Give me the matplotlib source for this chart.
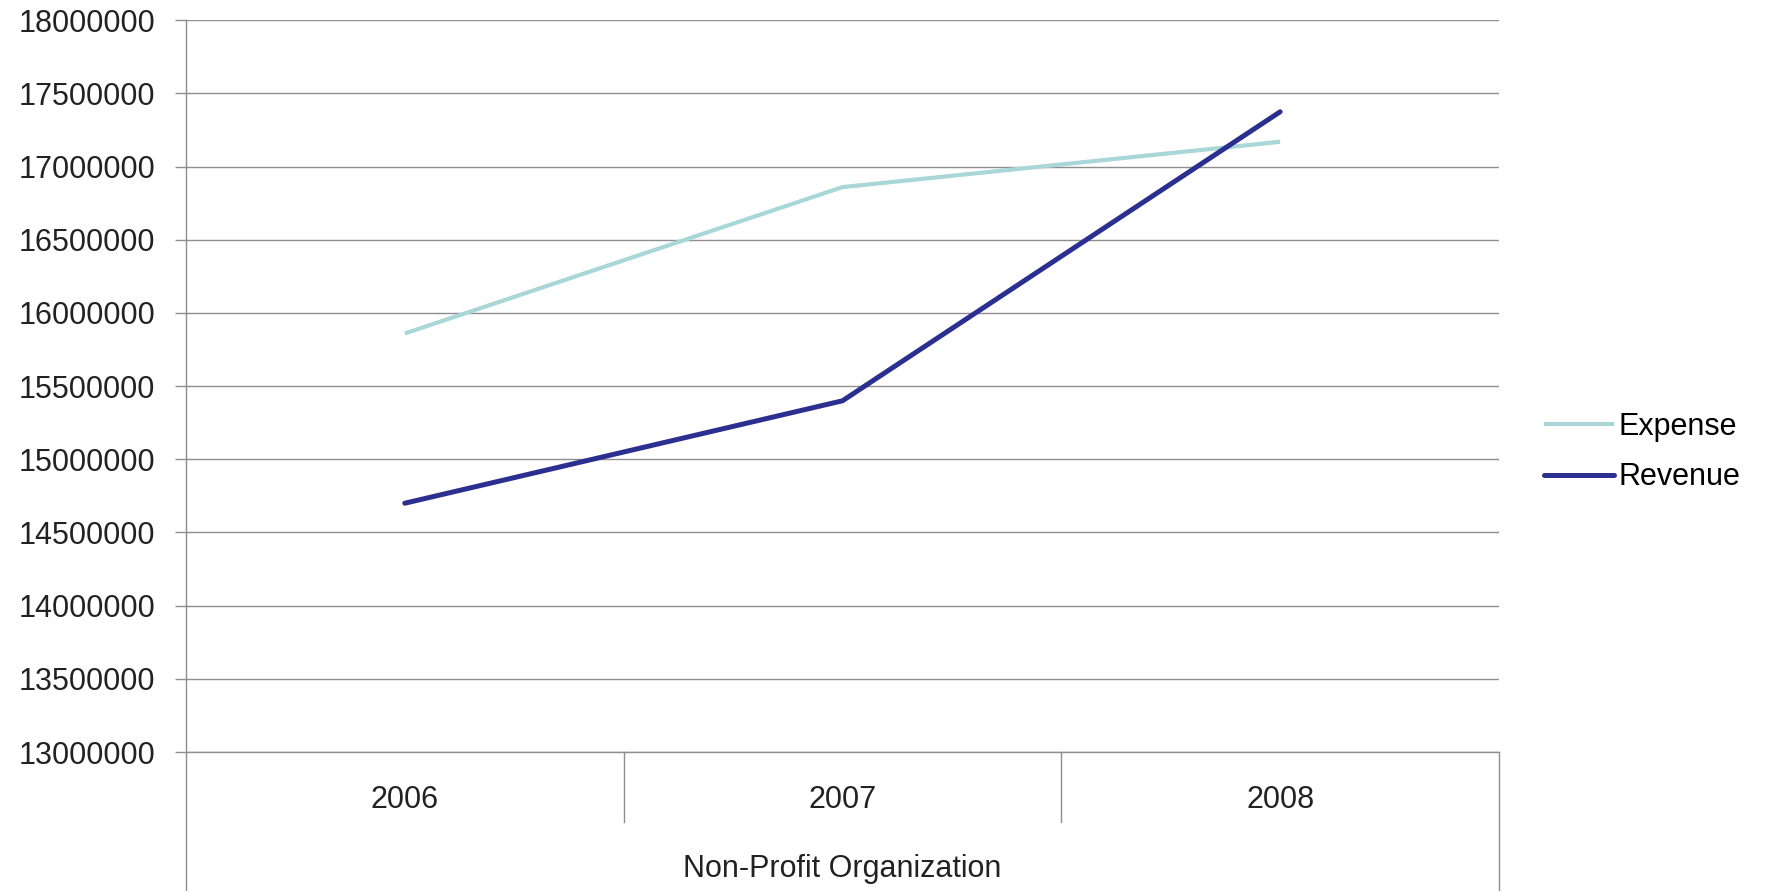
import matplotlib

matplotlib.use("Agg")
import matplotlib.pyplot as plt

years = ["2006", "2007", "2008"]
group_label = "Non-Profit Organization"
expense = [15860000, 16860000, 17170000]
revenue = [14700000, 15400000, 17375000]
y_ticks = list(range(13000000, 18000001, 500000))

COLORS = {"Expense": "#a9d6d7", "Revenue": "#2b2f8f"}
GRID = "#8e8e8e"
TEXT = "#222222"

plt.rcParams["font.family"] = ["Liberation Sans", "DejaVu Sans"]

fig = plt.figure(figsize=(17.71, 8.91), dpi=100)
ax = fig.add_axes([0.1050, 0.156, 0.7414, 0.8212])

x = range(len(years))
ax.plot(x, expense, color=COLORS["Expense"], linewidth=3.0, label="Expense",
        solid_capstyle="butt")
ax.plot(x, revenue, color=COLORS["Revenue"], linewidth=3.6, label="Revenue",
        solid_capstyle="round")

ax.set_xlim(-0.5, len(years) - 0.5)
ax.set_ylim(y_ticks[0], y_ticks[-1])
ax.set_yticks(y_ticks)
ax.set_yticklabels([str(v) for v in y_ticks])
ax.tick_params(axis="y", length=8, width=1.0, color=GRID, pad=14,
               labelsize=22, labelcolor=TEXT)
ax.set_xticks([])
ax.grid(axis="y", color=GRID, linewidth=1.0)
ax.set_axisbelow(True)

for side in ["top", "right", "left"]:
    ax.spines[side].set_visible(False)
ax.spines["bottom"].set_color(GRID)
ax.spines["bottom"].set_linewidth(1.0)

# multi-level category axis: separators, outer box lines, labels
trans = ax.get_xaxis_transform()
for b in [i + 0.5 for i in range(len(years) - 1)]:
    ax.plot([b, b], [0, -0.096], transform=trans, color=GRID, linewidth=1.0, clip_on=False)
ax.plot([-0.5, -0.5], [1, -0.2], transform=trans, color=GRID, linewidth=1.0, clip_on=False)
ax.plot([len(years) - 0.5] * 2, [0, -0.2], transform=trans, color=GRID, linewidth=1.0,
        clip_on=False)
for i, yr in enumerate(years):
    ax.text(i, -0.066, yr, transform=trans, ha="center", va="center",
            fontsize=22, color=TEXT)
ax.text((len(years) - 1) / 2, -0.16, group_label, transform=trans, ha="center",
        va="center", fontsize=22, color=TEXT)

fig.legend(loc="center left", bbox_to_anchor=(1544 / 1771, 1 - 452 / 891),
           frameon=False, fontsize=22, handlelength=2.3, handletextpad=0.15,
           labelspacing=0.68, borderpad=0, borderaxespad=0)

fig.savefig("out.png", dpi=100)
